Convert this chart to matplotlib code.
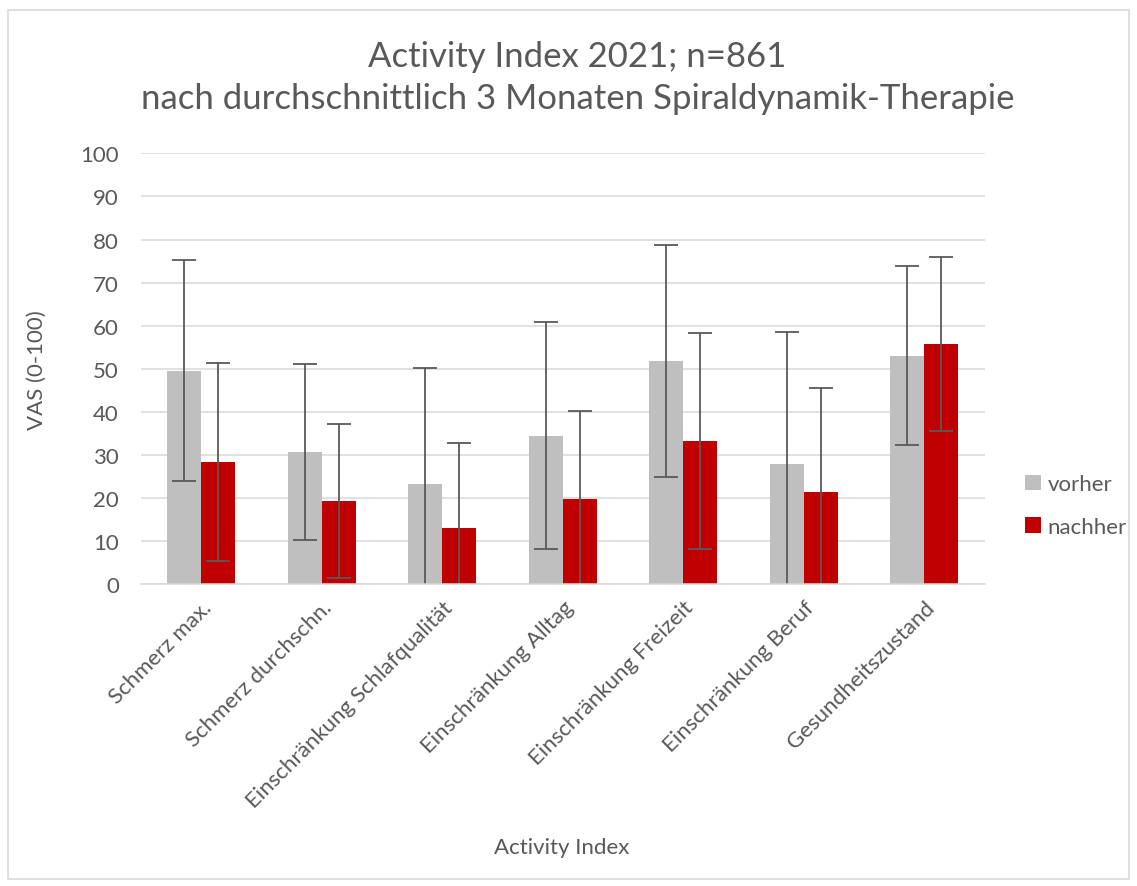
import matplotlib.pyplot as plt
import numpy as np
from matplotlib.patches import Rectangle

# data
categories = ['Schmerz max.', 'Schmerz durchschn.', 'Einschränkung Schlafqualität',
              'Einschränkung Alltag', 'Einschränkung Freizeit', 'Einschränkung Beruf',
              'Gesundheitszustand']
vorher = [49.6, 30.8, 23.4, 34.5, 51.8, 28.0, 53.1]
vorher_sd = [25.7, 20.4, 26.8, 26.3, 26.9, 30.5, 20.8]
nachher = [28.4, 19.3, 13.1, 19.9, 33.3, 21.4, 55.8]
nachher_sd = [23.0, 17.9, 19.6, 20.3, 25.0, 24.1, 20.1]

text_col = '#595959'
grid_col = '#D9D9D9'
plt.rcParams['font.family'] = ['Lato', 'DejaVu Sans']

fig = plt.figure(figsize=(11.37, 8.87), dpi=100)
ax = fig.add_axes([0.124, 0.340, 0.742, 0.486])

# chart border like the Excel chart area
fig.patches.append(Rectangle((0.007, 0.008), 0.986, 0.980, transform=fig.transFigure,
                             fill=False, edgecolor=grid_col, linewidth=1.2))

x = np.arange(len(categories))
w = 0.282
err_kw = dict(ecolor=text_col, elinewidth=1.3, capsize=8.5, capthick=1.3)
ax.bar(x - w / 2, vorher, w, yerr=vorher_sd, color='#BFBFBF', label='vorher',
       error_kw=err_kw, zorder=2)
ax.bar(x + w / 2, nachher, w, yerr=nachher_sd, color='#C00000', label='nachher',
       error_kw=err_kw, zorder=2)

ax.set_xlim(-0.5, len(categories) - 0.5)
ax.set_ylim(0, 100)
ax.set_yticks(range(0, 101, 10))
ax.yaxis.grid(True, color=grid_col, linewidth=1.1, zorder=0)
ax.set_axisbelow(True)
for s in ['top', 'right', 'left']:
    ax.spines[s].set_visible(False)
ax.spines['bottom'].set_color(grid_col)
ax.spines['bottom'].set_linewidth(1.1)
ax.tick_params(length=0, labelsize=16, colors=text_col)
ax.tick_params(axis='y', pad=16)
ax.tick_params(axis='x', pad=9)
ax.set_xticks(x)
ax.set_xticklabels(categories, rotation=45, ha='right', rotation_mode='anchor')

ax.set_ylabel('VAS (0-100)', fontsize=16, color=text_col, labelpad=24)
fig.text(0.494, 0.044, 'Activity Index', fontsize=16, color=text_col,
         ha='center', va='center')
fig.text(0.508, 0.912, 'Activity Index 2021; n=861\nnach durchschnittlich 3 Monaten Spiraldynamik-Therapie',
         fontsize=25, color=text_col, ha='center', va='center', linespacing=1.4)

ax.legend(loc='center left', bbox_to_anchor=(0.884, 0.429), bbox_transform=fig.transFigure,
          frameon=False, fontsize=16, labelcolor=text_col, handlelength=0.7,
          handleheight=0.7, handletextpad=0.3, labelspacing=1.0)

fig.savefig('out.png', dpi=100)
